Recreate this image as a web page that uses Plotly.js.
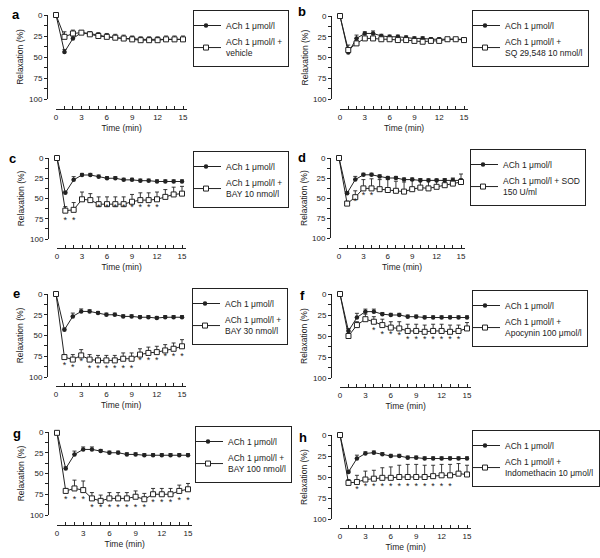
<!DOCTYPE html>
<html>
<head>
<meta charset="utf-8">
<script src="https://cdn.plot.ly/plotly-3.0.1.min.js"></script>
<style>html,body{margin:0;padding:0;background:#fff;}#chart{width:600px;height:558px;}</style>
</head>
<body>
<div id="chart"></div>
<script>
// ---------------- DATA ----------------
const time = [0, 1, 2, 3, 4, 5, 6, 7, 8, 9, 10, 11, 12, 13, 14, 15];
const controlLabel = 'ACh 1 μmol/l';

// panel a : vehicle
const ach_a      = [0, 44, 28, 21, 22, 24, 26, 27, 28, 28, 29, 29, 29, 29, 29, 29];
const ach_a_err  = [0, 3, 3, 2, 2, 2, 2, 2, 2, 2, 2, 2, 2, 2, 2, 2];
const trt_a      = [0, 26, 22, 21, 23, 25, 26, 27, 28, 29, 30, 30, 30, 29, 29, 29];
const trt_a_err  = [0, 6, 4, 2, 3, 4, 4, 4, 4, 4, 4, 4, 4, 4, 4, 4];
const star_a_x   = [];
const star_a_y   = [];
const label_a    = 'ACh 1 μmol/l +<br>vehicle';

// panel b : SQ 29,548
const ach_b      = [0, 44, 27, 21, 21, 24, 25, 25, 26, 27, 27, 28, 28, 28, 28, 28];
const ach_b_err  = [0, 3, 4, 2, 3, 2, 2, 2, 2, 2, 2, 2, 2, 2, 2, 2];
const trt_b      = [0, 41, 33, 27, 27, 28, 28, 29, 29, 30, 31, 30, 30, 28, 28, 29];
const trt_b_err  = [0, 6, 3, 2, 2, 2, 2, 2, 2, 2, 2, 2, 2, 2, 2, 3];
const star_b_x   = [];
const star_b_y   = [];
const label_b    = 'ACh 1 μmol/l +<br>SQ 29,548 10 nmol/l';

// panel c : BAY 10 nmol/l
const ach_c      = [0, 43, 27, 21, 21, 23, 25, 25, 27, 27, 28, 28, 29, 29, 29, 29];
const ach_c_err  = [0, 2, 4, 2, 2, 2, 2, 2, 2, 2, 2, 2, 2, 2, 2, 2];
const trt_c      = [0, 65, 64, 51, 52, 57, 57, 57, 57, 54, 52, 52, 51, 48, 45, 44];
const trt_c_err  = [0, 5, 9, 9, 8, 9, 9, 9, 9, 9, 9, 9, 9, 9, 9, 9];
const star_c_x   = [1, 2, 5, 6, 7, 8, 9, 10, 11, 12];
const star_c_y   = [77, 77, 62, 62, 62, 62, 62, 62, 62, 62];
const label_c    = 'ACh 1 μmol/l +<br>BAY 10 nmol/l';

// panel d : SOD
const ach_d      = [0, 44, 27, 21, 21, 23, 25, 25, 27, 27, 28, 28, 28, 28, 28, 28];
const ach_d_err  = [0, 2, 4, 2, 2, 2, 2, 2, 2, 2, 2, 2, 2, 2, 2, 2];
const trt_d      = [0, 57, 49, 38, 38, 39, 40, 41, 42, 39, 37, 38, 36, 34, 32, 30];
const trt_d_err  = [0, 3, 8, 11, 12, 12, 13, 12, 12, 11, 11, 10, 9, 8, 7, 10];
const star_d_x   = [2, 3, 4];
const star_d_y   = [55, 47, 47];
const label_d    = 'ACh 1 μmol/l + SOD<br>150 U/ml';

// panel e : BAY 30 nmol/l
const ach_e      = [0, 43, 27, 21, 21, 23, 25, 25, 27, 27, 28, 28, 29, 28, 28, 28];
const ach_e_err  = [0, 2, 4, 3, 2, 2, 2, 2, 2, 2, 2, 2, 2, 2, 2, 2];
const trt_e      = [0, 76, 79, 74, 79, 80, 80, 80, 78, 78, 73, 71, 70, 68, 66, 63];
const trt_e_err  = [0, 3, 6, 7, 6, 6, 6, 6, 7, 7, 7, 7, 7, 7, 7, 8];
const star_e_x   = [1, 2, 3, 4, 5, 6, 7, 8, 9, 10, 11, 12, 13, 14, 15];
const star_e_y   = [87, 89, 82, 90, 90, 90, 90, 90, 90, 81, 81, 81, 75, 75, 75];
const label_e    = 'ACh 1 μmol/l +<br>BAY 30 nmol/l';

// panel f : Apocynin
const ach_f      = [0, 44, 28, 21, 21, 24, 25, 25, 27, 27, 28, 28, 28, 28, 28, 28];
const ach_f_err  = [0, 3, 5, 3, 3, 2, 2, 2, 2, 2, 2, 2, 2, 2, 2, 2];
const trt_f      = [0, 50, 37, 30, 33, 37, 40, 41, 44, 44, 45, 44, 44, 45, 44, 41];
const trt_f_err  = [0, 2, 4, 6, 6, 7, 7, 8, 8, 8, 8, 8, 8, 8, 7, 7];
const star_f_x   = [4, 5, 6, 7, 8, 9, 10, 11, 12, 13, 14];
const star_f_y   = [44, 48, 48, 50, 54, 54, 54, 54, 54, 54, 54];
const label_f    = 'ACh 1 μmol/l +<br>Apocynin 100 μmol/l';

// panel g : BAY 100 nmol/l
const ach_g      = [1, 44, 27, 21, 21, 23, 25, 25, 27, 27, 28, 28, 28, 28, 28, 28];
const ach_g_err  = [0, 2, 4, 3, 3, 2, 2, 2, 2, 2, 2, 2, 2, 2, 2, 2];
const trt_g      = [1, 71, 68, 70, 80, 83, 80, 80, 80, 78, 81, 75, 75, 75, 71, 69];
const trt_g_err  = [0, 3, 10, 11, 7, 7, 7, 7, 7, 7, 7, 7, 7, 7, 7, 7];
const star_g_x   = [1, 2, 3, 4, 5, 6, 7, 8, 9, 10, 11, 12, 13, 14, 15];
const star_g_y   = [82, 82, 82, 91, 91, 91, 91, 91, 91, 91, 85, 85, 85, 83, 83];
const label_g    = 'ACh 1 μmol/l +<br>BAY 100 nmol/l';

// panel h : Indomethacin
const ach_h      = [0, 44, 28, 22, 21, 23, 25, 25, 27, 27, 28, 28, 28, 28, 28, 28];
const ach_h_err  = [0, 2, 4, 2, 2, 2, 2, 2, 2, 2, 2, 2, 2, 2, 2, 2];
const trt_h      = [0, 57, 56, 53, 52, 51, 51, 50, 50, 50, 50, 49, 48, 48, 46, 47];
const trt_h_err  = [0, 4, 8, 10, 10, 12, 13, 14, 15, 15, 14, 13, 13, 13, 12, 11];
const star_h_x   = [2, 3, 4, 5, 6, 7, 8, 9, 10, 11, 12, 13];
const star_h_y   = [65, 62, 62, 62, 62, 62, 62, 62, 62, 62, 62, 62];
const label_h    = 'ACh 1 μmol/l +<br>Indomethacin 10 μmol/l';

const panelLetters = ['a', 'b', 'c', 'd', 'e', 'f', 'g', 'h'];
const xTitle = 'Time (min)';
const yTitle = 'Relaxation (%)';

// ---------------- LAYOUT GEOMETRY (pixels) ----------------
const W = 600, H = 558;
const geo = [
  {x0: 56,  x15: 183, y0: 15,  y100: 99,  xline: 109, lx: 193, ly: 10,  letter: [16, 14]},
  {x0: 340, x15: 464, y0: 16,  y100: 99,  xline: 109, lx: 472, ly: 10,  letter: [302, 12]},
  {x0: 57,  x15: 182, y0: 158, y100: 239, xline: 248, lx: 193, ly: 151, letter: [12, 158]},
  {x0: 339, x15: 461, y0: 158, y100: 238, xline: 248, lx: 470, ly: 149, letter: [302, 157]},
  {x0: 56,  x15: 182, y0: 294, y100: 377, xline: 386, lx: 192, ly: 288, letter: [16, 293]},
  {x0: 340, x15: 467, y0: 294, y100: 378, xline: 387, lx: 472, ly: 290, letter: [302, 295]},
  {x0: 57,  x15: 188, y0: 432, y100: 515, xline: 525, lx: 195, ly: 426, letter: [17, 433]},
  {x0: 340, x15: 467, y0: 435, y100: 519, xline: 528, lx: 472, ly: 430, letter: [303, 437]}
];
const rightTitleX = 304;
const px = p => p / W;
const py = p => 1 - p / H;

const panels = [
  {ach: ach_a, achErr: ach_a_err, trt: trt_a, trtErr: trt_a_err, sx: star_a_x, sy: star_a_y, label: label_a},
  {ach: ach_b, achErr: ach_b_err, trt: trt_b, trtErr: trt_b_err, sx: star_b_x, sy: star_b_y, label: label_b},
  {ach: ach_c, achErr: ach_c_err, trt: trt_c, trtErr: trt_c_err, sx: star_c_x, sy: star_c_y, label: label_c},
  {ach: ach_d, achErr: ach_d_err, trt: trt_d, trtErr: trt_d_err, sx: star_d_x, sy: star_d_y, label: label_d},
  {ach: ach_e, achErr: ach_e_err, trt: trt_e, trtErr: trt_e_err, sx: star_e_x, sy: star_e_y, label: label_e},
  {ach: ach_f, achErr: ach_f_err, trt: trt_f, trtErr: trt_f_err, sx: star_f_x, sy: star_f_y, label: label_f},
  {ach: ach_g, achErr: ach_g_err, trt: trt_g, trtErr: trt_g_err, sx: star_g_x, sy: star_g_y, label: label_g},
  {ach: ach_h, achErr: ach_h_err, trt: trt_h, trtErr: trt_h_err, sx: star_h_x, sy: star_h_y, label: label_h}
];

const ink = '#222';
const traces = [];
const layout = {
  width: W, height: H,
  margin: {l: 0, r: 0, t: 0, b: 0},
  paper_bgcolor: '#fff', plot_bgcolor: 'rgba(0,0,0,0)',
  font: {family: 'Liberation Sans, Arial, sans-serif', color: ink, size: 8},
  showlegend: true,
  annotations: [],
  hovermode: false
};

panels.forEach((p, i) => {
  const g = geo[i];
  const s = i === 0 ? '' : String(i + 1);
  const xa = 'x' + s, ya = 'y' + s, lg = 'legend' + s;
  const k = (g.x15 - g.x0) / 15;
  const rightCol = i % 2 === 1;
  const errStyle = (err) => ({
    type: 'data', symmetric: false,
    array: err.map(() => 0), arrayminus: err,
    width: 2, thickness: 0.9, color: ink
  });

  traces.push({
    x: time, y: p.ach, xaxis: xa, yaxis: ya, legend: lg,
    name: controlLabel, mode: 'lines+markers', cliponaxis: false,
    line: {color: ink, width: 1},
    marker: {symbol: 'circle', size: 4.5, color: ink},
    error_y: errStyle(p.achErr)
  });
  traces.push({
    x: time, y: p.trt, xaxis: xa, yaxis: ya, legend: lg,
    name: p.label, mode: 'lines+markers', cliponaxis: false,
    line: {color: ink, width: 1},
    marker: {symbol: 'square', size: 5, color: '#fff', line: {color: ink, width: 1}},
    error_y: errStyle(p.trtErr)
  });
  if (p.sx.length) {
    traces.push({
      x: p.sx, y: p.sy, xaxis: xa, yaxis: ya, mode: 'text', text: p.sx.map(() => '*'),
      textposition: 'middle center', textfont: {size: 9, color: ink},
      showlegend: false, cliponaxis: false, hoverinfo: 'skip'
    });
  }

  layout['xaxis' + s] = {
    domain: [px(g.x0), px(g.x0 + 15.5 * k)], range: [0, 15.5],
    anchor: 'free', position: py(g.xline),
    tickmode: 'linear', tick0: 0, dtick: 3,
    ticks: 'inside', ticklen: 3, tickwidth: 1, tickcolor: ink,
    minor: {tickmode: 'linear', tick0: 0, dtick: 1, ticks: 'inside', ticklen: 3, tickcolor: ink},
    showline: true, linecolor: ink, linewidth: 1,
    showgrid: false, zeroline: false,
    tickfont: {size: 8, color: ink},
    title: {text: xTitle, font: {size: 8.5, color: ink}, standoff: 4}
  };
  layout['yaxis' + s] = {
    domain: [py(g.y100), py(g.y0)], range: [100, 0],
    anchor: 'free', position: px(g.x0 - 9),
    tickmode: 'linear', tick0: 0, dtick: 25,
    ticks: 'outside', ticklen: 3, tickwidth: 1, tickcolor: ink,
    minor: {tickmode: 'linear', tick0: 0, dtick: 12.5, ticks: 'outside', ticklen: 3, tickcolor: ink},
    showline: true, linecolor: ink, linewidth: 1,
    showgrid: false, zeroline: false,
    tickfont: {size: 8, color: ink},
    title: rightCol ? {text: ''} : {text: yTitle, font: {size: 8.5, color: ink}, standoff: 3}
  };
  if (rightCol) {
    layout.annotations.push({
      text: yTitle, xref: 'paper', yref: 'paper', textangle: -90,
      x: px(rightTitleX), y: py((g.y0 + g.y100) / 2), xanchor: 'center', yanchor: 'middle',
      showarrow: false, font: {size: 8.5, color: ink}
    });
  }
  layout['legend' + s] = {
    x: px(g.lx), y: py(g.ly), xanchor: 'left', yanchor: 'top',
    bordercolor: ink, borderwidth: 1, bgcolor: '#fff', indentation: -8,
    font: {size: 8.5, color: ink}, traceorder: 'normal', tracegroupgap: 0
  };
  layout.annotations.push({
    text: '<b>' + panelLetters[i] + '</b>', xref: 'paper', yref: 'paper',
    x: px(g.letter[0]), y: py(g.letter[1]), xanchor: 'center', yanchor: 'middle',
    showarrow: false, font: {size: 13, color: '#000'}
  });
});

Plotly.newPlot('chart', traces, layout, {displayModeBar: false, staticPlot: true});
</script>
</body>
</html>
